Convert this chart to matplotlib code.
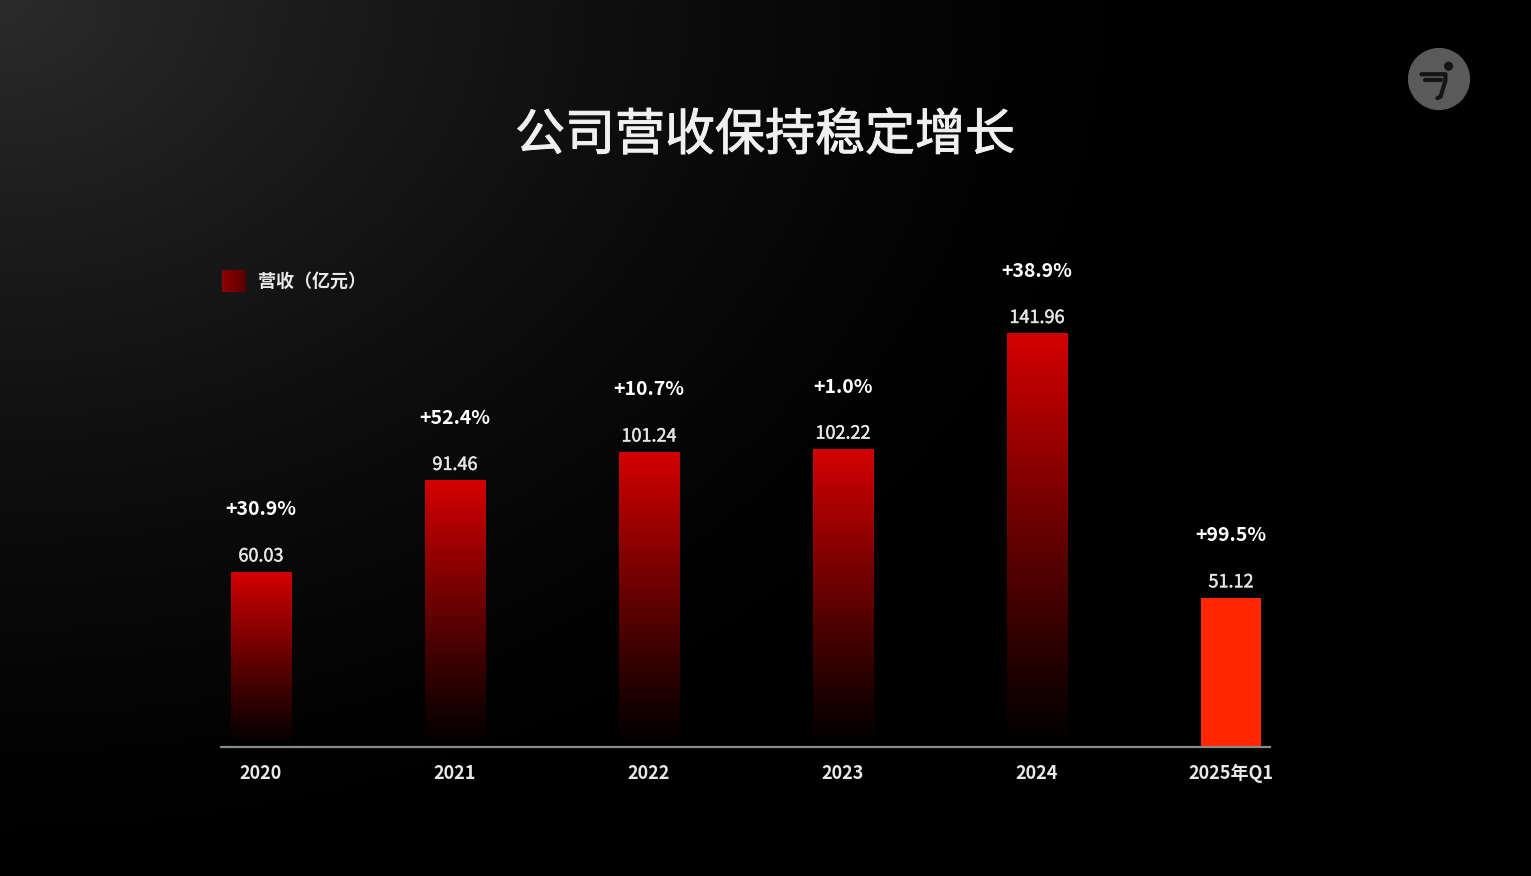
import numpy as np
import matplotlib.pyplot as plt
import matplotlib.patheffects as pe
from matplotlib.colors import LinearSegmentedColormap
from matplotlib.patches import Circle, Rectangle

# data
years = ["2020", "2021", "2022", "2023", "2024", "2025年Q1"]
revenue = [60.03, 91.46, 101.24, 102.22, 141.96, 51.12]
value_labels = ["60.03", "91.46", "101.24", "102.22", "141.96", "51.12"]
growth = ["+30.9%", "+52.4%", "+10.7%", "+1.0%", "+38.9%", "+99.5%"]

FONT = ["Noto Sans CJK SC", "DejaVu Sans"]
plt.rcParams["font.family"] = FONT

W, H = 1531, 876
fig = plt.figure(figsize=(W / 100, H / 100), dpi=100)
fig.patch.set_facecolor("black")

# background: soft grey glow from the top-left corner
bg = fig.add_axes([0, 0, 1, 1], zorder=-10)
yy, xx = np.mgrid[0:H, 0:W]
r = np.sqrt((xx / 1.0) ** 2 + (yy / 0.75) ** 2) / 1200
g = np.clip(1 - r, 0, 1) ** 1.5 * 0.17
bg.imshow(np.dstack([g, g, g]), extent=[0, W, H, 0], aspect="auto")
bg.set_xlim(0, W)
bg.set_ylim(H, 0)
bg.axis("off")

# title (thin stroke to mimic a medium weight)
fig.text(765 / W, 1 - 136 / H, "公司营收保持稳定增长", color="#f0f0f0",
         fontsize=36, ha="center", va="center",
         path_effects=[pe.withStroke(linewidth=0.7, foreground="#f0f0f0")])

# legend swatch + label
leg_cmap = LinearSegmentedColormap.from_list("leg", ["#8e0000", "#5a0000"])
lax = fig.add_axes([222 / W, 1 - 292 / H, 24 / W, 22 / H])
lax.imshow(np.linspace(0, 1, 50).reshape(1, -1), cmap=leg_cmap, aspect="auto")
lax.axis("off")
fig.text(258 / W, 1 - 281 / H, "营收（亿元）", color="#e8e8e8", fontsize=13,
         fontweight="bold", ha="left", va="center")

# main axes
ax = fig.add_axes([221 / W, 1 - 747 / H, (1270 - 221) / W, 547 / H])
ax.set_facecolor("none")
x = np.arange(len(years))
width = 0.31

bar_cmap = LinearSegmentedColormap.from_list("bar", ["#000000", "#d40000"])
grad = np.linspace(0, 1, 256).reshape(-1, 1) ** 1.1
for i, v in enumerate(revenue):
    if i < len(revenue) - 1:
        ax.imshow(grad, cmap=bar_cmap, origin="lower", aspect="auto", vmin=0, vmax=1,
                  extent=[x[i] - width / 2, x[i] + width / 2, 0, v], zorder=2)
    else:
        ax.add_patch(Rectangle((x[i] - width / 2, 0), width, v,
                               facecolor="#ff2600", edgecolor="none", zorder=2))
    ax.annotate(value_labels[i], (x[i], v), xytext=(0, 11.5), textcoords="offset points",
                ha="center", va="center", color="#e6e6e6", fontsize=13,
                path_effects=[pe.withStroke(linewidth=0.3, foreground="#e6e6e6")])
    ax.annotate(growth[i], (x[i], v), xytext=(0, 45), textcoords="offset points",
                ha="center", va="center", color="white", fontsize=14, fontweight="bold")

ax.set_xlim(-0.206, 5.201)
ax.set_ylim(0, 188)
ax.set_xticks(x)
ax.set_xticklabels(years, color="#e8e8e8", fontsize=13, fontweight="bold")
ax.tick_params(axis="x", length=0, pad=12)
ax.set_yticks([])
for s in ["top", "left", "right"]:
    ax.spines[s].set_visible(False)
ax.spines["bottom"].set_color("#8a8a8a")
ax.spines["bottom"].set_linewidth(1.6)

# logo in the top-right corner
lg = fig.add_axes([(1439 - 32) / W, 1 - (79 + 32) / H, 64 / W, 64 / H])
lg.set_xlim(-1, 1)
lg.set_ylim(-1, 1)
lg.set_aspect("equal")
lg.axis("off")
lg.add_patch(Circle((0, 0), 0.95, color="#5a5a5a"))
lg.add_patch(Circle((0.3, 0.4), 0.12, color="#151515"))
lg.plot([-0.55, 0.2, 0.2, 0.05, -0.05], [0.15, 0.15, -0.05, -0.55, -0.6],
        color="#151515", lw=3, solid_capstyle="round")
lg.plot([-0.45, 0.05], [-0.02, -0.02], color="#151515", lw=3, solid_capstyle="round")

fig.savefig("out.png", dpi=100, facecolor=fig.get_facecolor())
